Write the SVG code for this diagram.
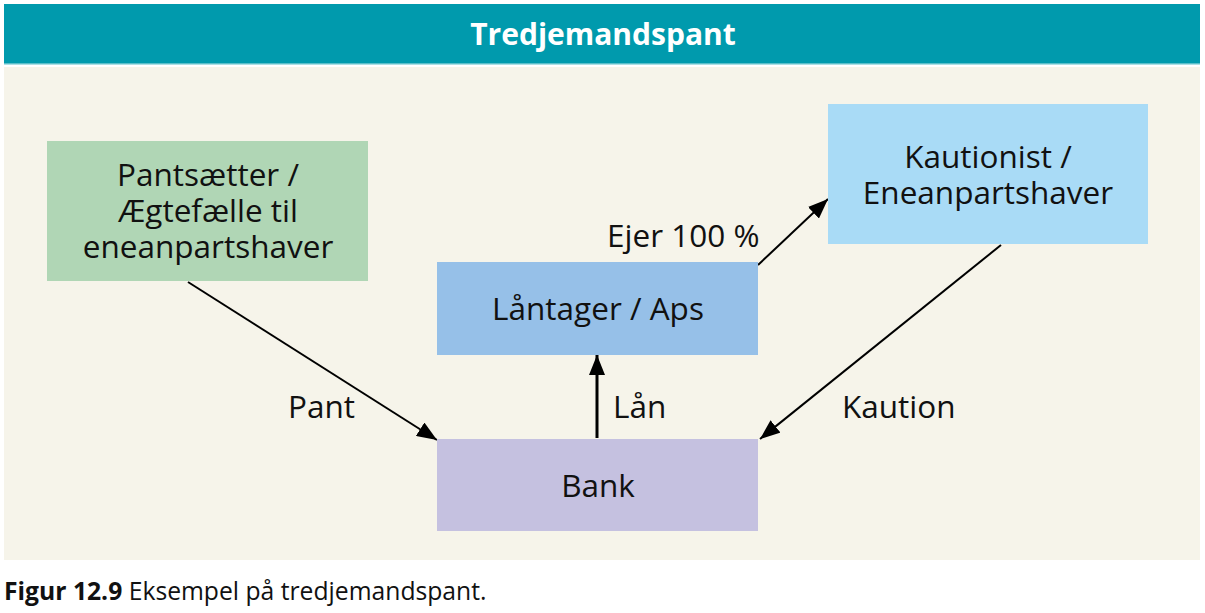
<svg xmlns="http://www.w3.org/2000/svg" width="1205" height="613" viewBox="0 0 1205 613">
<defs>
<style>
text{font-family:"Open Sans","Noto Sans","DejaVu Sans",sans-serif;fill:#111;}
.t{font-size:31.5px;text-anchor:middle;}
.l{font-size:31.5px;}
.c{stroke:#000;stroke-width:2;fill:none;}
</style>
<marker id="ah" viewBox="0 0 20 16" refX="20" refY="8" markerWidth="20" markerHeight="16" markerUnits="userSpaceOnUse" orient="auto">
<path d="M0,0 L20,8 L0,16 Z" fill="#000"/>
</marker>
</defs>
<rect x="0" y="0" width="1205" height="613" fill="#fff"/>
<rect x="4" y="4" width="1196" height="60" fill="#009aad"/>
<rect x="4" y="63" width="1196" height="1.5" fill="#5bbfca"/>
<rect x="4" y="67" width="1196" height="493" fill="#f6f4ea"/>
<text x="603" y="45" style="font-size:30px;font-weight:bold;fill:#fff;text-anchor:middle;">Tredjemandspant</text>
<g id="connectors">
<line class="c" x1="188" y1="282" x2="437" y2="440" marker-end="url(#ah)"/>
<line class="c" x1="597" y1="438" x2="597" y2="355" marker-end="url(#ah)" style="stroke-width:3"/>
<line class="c" x1="758" y1="265" x2="828" y2="199" marker-end="url(#ah)"/>
<line class="c" x1="1001" y1="245" x2="760" y2="439" marker-end="url(#ah)"/>
<text class="l" x="288" y="418">Pant</text>
<text class="l" x="613" y="418">Lån</text>
<text class="l" x="842" y="418">Kaution</text>
<text class="l" x="607" y="247">Ejer 100 %</text>
</g>
<g id="pantsaetter">
<rect x="47" y="141" width="321" height="140" fill="#b0d6b5"/>
<text class="t" x="208" y="186">Pantsætter /</text>
<text class="t" x="208" y="222">Ægtefælle til</text>
<text class="t" x="208" y="258">eneanpartshaver</text>
</g>
<g id="kautionist">
<rect x="828" y="104" width="320" height="140" fill="#a9dbf6"/>
<text class="t" x="988" y="168">Kautionist /</text>
<text class="t" x="988" y="204">Eneanpartshaver</text>
</g>
<g id="laantager">
<rect x="437" y="262" width="321" height="93" fill="#96c0e8"/>
<text class="t" x="598" y="320">Låntager / Aps</text>
</g>
<g id="bank">
<rect x="437" y="439" width="321" height="92" fill="#c5c1e0"/>
<text class="t" x="598" y="497">Bank</text>
</g>
<text x="4" y="600" style="font-size:24.7px;"><tspan style="font-weight:bold;">Figur 12.9</tspan> Eksempel på tredjemandspant.</text>
</svg>
